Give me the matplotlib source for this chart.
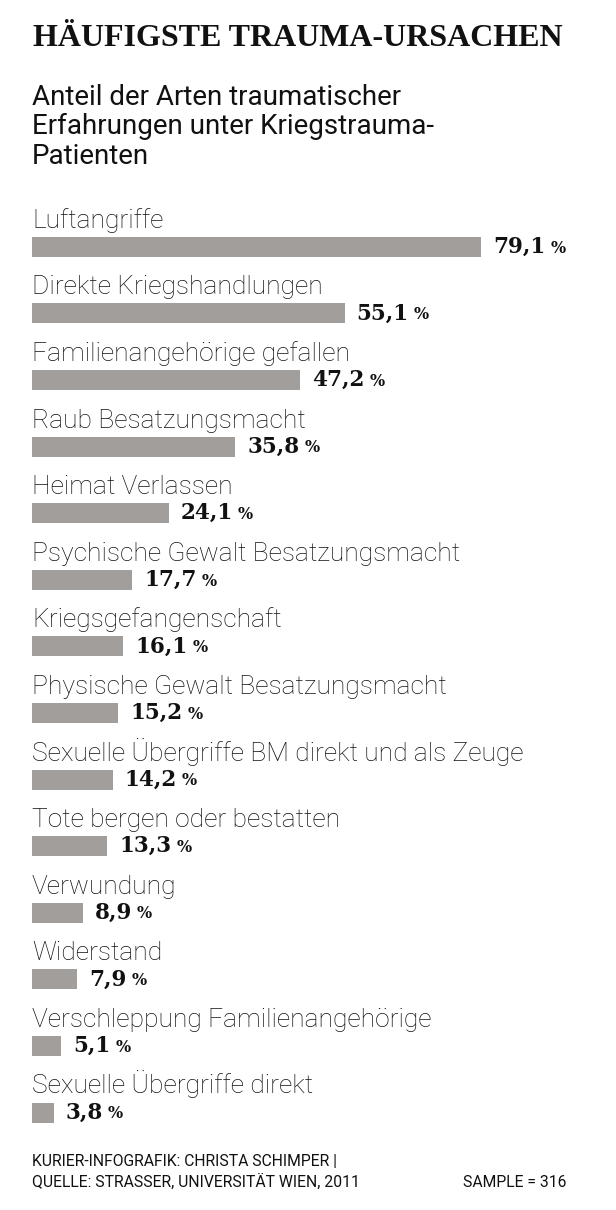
import matplotlib
matplotlib.use("Agg")
import matplotlib.pyplot as plt

# data
labels = [
    "Luftangriffe",
    "Direkte Kriegshandlungen",
    "Familienangehörige gefallen",
    "Raub Besatzungsmacht",
    "Heimat Verlassen",
    "Psychische Gewalt Besatzungsmacht",
    "Kriegsgefangenschaft",
    "Physische Gewalt Besatzungsmacht",
    "Sexuelle Übergriffe BM direkt und als Zeuge",
    "Tote bergen oder bestatten",
    "Verwundung",
    "Widerstand",
    "Verschleppung Familienangehörige",
    "Sexuelle Übergriffe direkt",
]
values = [79.1, 55.1, 47.2, 35.8, 24.1, 17.7, 16.1, 15.2, 14.2, 13.3, 8.9, 7.9, 5.1, 3.8]
value_text = [("%.1f" % v).replace(".", ",") for v in values]

title = "HÄUFIGSTE TRAUMA-URSACHEN"
subtitle_lines = ["Anteil der Arten traumatischer",
                  "Erfahrungen unter Kriegstrauma-",
                  "Patienten"]
credit_lines = ["KURIER-INFOGRAFIK: CHRISTA SCHIMPER |",
                "QUELLE: STRASSER, UNIVERSITÄT WIEN, 2011"]
sample = "SAMPLE = 316"

W, H = 616, 1210
BAR = "#a19e9b"
INK = "#111111"
SERIF = ["DejaVu Serif"]
TITLE_SERIF = ["Liberation Serif", "DejaVu Serif"]
SANS = ["Roboto", "DejaVu Sans"]

fig = plt.figure(figsize=(W / 100, H / 100), dpi=100)
fig.patch.set_facecolor("white")

# axes placed so that 1 % = 5.676 px and rows are 66.6 px apart
px_per_unit = 5.676
row = 66.6
first_center = 246.7
ymin, ymax = -1.0, 13.5
ax_left = 32
ax_w = 100 * px_per_unit
ax_top = first_center + row * ymin
ax_bot = first_center + row * ymax
ax = fig.add_axes([ax_left / W, 1 - ax_bot / H, ax_w / W, (ax_bot - ax_top) / H])
ax.set_xlim(0, 100)
ax.set_ylim(ymax, ymin)
ax.axis("off")

pos = list(range(len(values)))
ax.barh(pos, values, height=20 / row, color=BAR, linewidth=0)

for i, (lab, v, vt) in enumerate(zip(labels, values, value_text)):
    ax.annotate(lab, xy=(0, i), xytext=(0, 19), textcoords="offset pixels",
                ha="left", va="baseline", fontsize=19, family=SANS,
                fontweight="light", color=INK)
    t = ax.annotate(vt, xy=(v, i), xytext=(12, -6), textcoords="offset pixels",
                    ha="left", va="baseline", fontsize=15.5, family=SERIF,
                    fontweight="bold", color=INK)
    ax.annotate("%", xy=(1, 0), xycoords=t, xytext=(5, 1.2),
                textcoords="offset pixels", ha="left", va="bottom",
                fontsize=11.5, family=SERIF, fontweight="bold", color=INK)

fig.text(33 / W, 1 - 46 / H, title, ha="left", va="baseline", fontsize=23,
         family=TITLE_SERIF, fontweight="bold", color=INK)
for k, line in enumerate(subtitle_lines):
    fig.text(32 / W, 1 - (105 + 29.5 * k) / H, line, ha="left", va="baseline",
             fontsize=20, family=SANS, color=INK)
for k, line in enumerate(credit_lines):
    fig.text(32 / W, 1 - (1166 + 21 * k) / H, line, ha="left", va="baseline",
             fontsize=11.3, family=SANS, color=INK)
fig.text(566 / W, 1 - 1187 / H, sample, ha="right", va="baseline", fontsize=11.3,
         family=SANS, color=INK)

fig.savefig("out.png", dpi=100, facecolor="white")
